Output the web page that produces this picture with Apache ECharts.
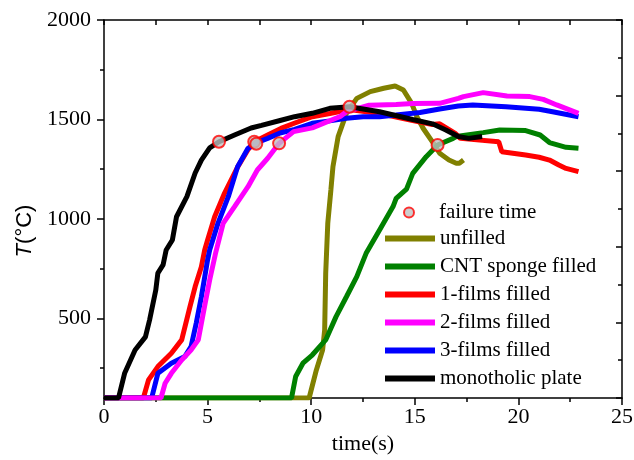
<!DOCTYPE html>
<html>
<head>
<meta charset="utf-8">
<script src="https://cdn.jsdelivr.net/npm/echarts@6/dist/echarts.min.js"></script>
<style>html,body{margin:0;padding:0;background:#fff;}#c{width:634px;height:460px;}</style>
</head>
<body>
<div id="c"></div>
<script>
var seriesNames = ['unfilled','CNT sponge filled','1-films filled','2-films filled','3-films filled','monotholic plate'];
var failureName = 'failure time';
var xTickLabels = [0,5,10,15,20,25];
var yTickLabels = [500,1000,1500,2000];
var yMinorTicks = [250,750,1250,1750];

var unfilled = [[0,100],[9.9,100],[10.25,241],[10.55,341],[10.65,442],[10.7,727],[10.8,978],[10.95,1146],[11.05,1263],[11.3,1414],[11.7,1531],[12.2,1606],[12.85,1640],[13.5,1657],[14.05,1668],[14.45,1648],[14.85,1581],[15.1,1514],[15.4,1456],[15.9,1380],[16.2,1330],[16.65,1296],[17.0,1280],[17.15,1280],[17.35,1296]];
var cntSponge = [[0,100],[9.05,100],[9.25,208],[9.6,275],[10.05,316],[10.7,392],[11.2,509],[11.7,609],[12.2,710],[12.65,827],[13.3,945],[13.95,1062],[14.1,1104],[14.6,1150],[14.9,1229],[15.55,1313],[16.1,1372],[16.85,1405],[17.0,1414],[18.3,1434],[19.1,1447],[20.35,1444],[21.05,1422],[21.5,1384],[22.3,1360],[22.9,1355]];
var films1 = [[0,100],[1.9,100],[2.15,191],[2.6,258],[3.25,325],[3.75,392],[4.15,559],[4.4,660],[4.7,760],[4.86,844],[5.0,894],[5.34,1011],[5.82,1130],[6.46,1263],[6.94,1347],[7.26,1388],[7.9,1422],[8.54,1455],[9.18,1481],[10.05,1514],[10.9,1530],[11.85,1550],[13.3,1530],[14.9,1495],[15.85,1475],[16.2,1478],[16.95,1430],[17.2,1405],[19.05,1388],[19.2,1338],[20.35,1321],[21.0,1310],[21.5,1296],[21.95,1271],[22.3,1254],[22.9,1238]];
var films2 = [[0,100],[2.75,100],[2.95,174],[3.25,224],[3.75,291],[4.2,341],[4.55,392],[4.85,559],[5.1,693],[5.4,835],[5.75,978],[6.3,1062],[6.95,1162],[7.4,1246],[7.9,1305],[8.45,1380],[8.85,1414],[9.15,1439],[10.05,1458],[11.4,1515],[11.7,1539],[12.8,1572],[14.1,1575],[14.9,1580],[16.2,1581],[17.1,1606],[17.35,1615],[18.3,1635],[19.45,1618],[20.55,1615],[21.2,1601],[21.85,1573],[22.9,1531]];
var films3 = [[0,100],[2.3,100],[2.6,224],[3.25,275],[3.9,308],[4.2,358],[4.45,476],[4.7,609],[5.0,794],[5.1,844],[5.25,894],[5.5,978],[6.0,1112],[6.45,1263],[6.95,1355],[7.4,1385],[7.9,1405],[8.5,1432],[9.2,1450],[10.05,1481],[10.9,1493],[11.7,1506],[12.5,1514],[13.3,1514],[14.1,1522],[14.9,1531],[15.25,1535],[16.2,1553],[17.1,1568],[17.8,1573],[19.4,1564],[21.0,1551],[21.65,1539],[22.9,1514]];
var monolithic = [[0,100],[0.7,100],[1.0,226],[1.5,341],[2.0,407],[2.2,492],[2.5,643],[2.6,728],[2.85,769],[3.0,844],[3.3,894],[3.5,1011],[4.0,1112],[4.4,1231],[4.7,1296],[5.1,1357],[5.55,1388],[6.3,1422],[7.1,1457],[7.6,1470],[8.5,1495],[9.2,1514],[10.05,1531],[10.9,1556],[11.85,1564],[13.3,1539],[14.9,1500],[15.85,1478],[16.5,1447],[17.1,1414],[17.6,1405],[18.25,1414]];
var failurePoints = [[5.55,1388],[7.25,1388],[7.35,1378],[8.45,1380],[11.85,1564],[16.1,1372]];

var lineData = [unfilled, cntSponge, films1, films3, films2, monolithic];
var lineNames = ['unfilled','CNT sponge filled','1-films filled','3-films filled','2-films filled','monotholic plate'];
var lineColors = {'unfilled':'#808000','CNT sponge filled':'#008000','1-films filled':'#ff0000','2-films filled':'#ff00ff','3-films filled':'#0000ff','monotholic plate':'#000000'};

var serif = 'Liberation Serif, Times New Roman, serif';
var sans = 'Liberation Sans, Arial, sans-serif';
var axisLineStyle = {color:'#000', width:1.5};
function plain(v){ return String(v); }

var series = lineData.map(function(d, i){
  return {
    name: lineNames[i], type:'line', data:d, xAxisIndex:0, yAxisIndex:0,
    symbol:'none', color: lineColors[lineNames[i]],
    lineStyle:{width:5, color: lineColors[lineNames[i]]},
    emphasis:{disabled:true}, animation:false
  };
});
series.push({
  name: failureName, type:'scatter', data: failurePoints, xAxisIndex:0, yAxisIndex:0,
  symbol:'circle', symbolSize:12, z:5,
  itemStyle:{color:'#c0c0c0', borderColor:'#ff0000', borderWidth:2},
  emphasis:{disabled:true}, animation:false
});

var chart = echarts.init(document.getElementById('c'));
chart.setOption({
  animation:false,
  backgroundColor:'#fff',
  grid:{left:104, right:12, top:20, bottom:62, containLabel:false, outerBoundsMode:'none'},
  legend:[
    {data:[{name:failureName, icon:'circle'}], left:403, top:202, padding:0, itemWidth:10, itemHeight:10,
     textStyle:{fontFamily:serif, fontSize:21, color:'#000', lineHeight:21, padding:[0,0,0,20]}, selectedMode:false},
    {data: seriesNames.map(function(n){return {name:n, icon:'rect'};}), orient:'vertical', left:385, top:228, padding:0,
     itemWidth:50, itemHeight:6, itemGap:7,
     textStyle:{fontFamily:serif, fontSize:21, color:'#000', lineHeight:21}, selectedMode:false}
  ],
  xAxis:[
    {type:'value', min:0, max:25, interval:5, position:'bottom',
     axisLine:{show:true, onZero:false, lineStyle:axisLineStyle},
     axisTick:{show:true, inside:false, length:7, lineStyle:{color:'#000', width:1.5}},
     minorTick:{show:true, splitNumber:2, length:4, lineStyle:{color:'#000', width:1.5}},
     axisLabel:{fontFamily:serif, fontSize:22, color:'#000', margin:8,
       customValues: xTickLabels, formatter: plain},
     splitLine:{show:false},
     name:'time(s)', nameLocation:'middle', nameGap:34,
     nameTextStyle:{fontFamily:serif, fontSize:22, color:'#000'}},
    {type:'value', min:0, max:25, interval:2.5, position:'top',
     axisLine:{show:true, onZero:false, lineStyle:axisLineStyle},
     axisTick:{show:true, inside:true, length:5, lineStyle:{color:'#000', width:1.5}},
     axisLabel:{show:false}, splitLine:{show:false}}
  ],
  yAxis:[
    {type:'value', min:100, max:2000, position:'left',
     axisLine:{show:true, onZero:false, lineStyle:axisLineStyle},
     axisTick:{show:true, inside:false, length:7, customValues: yTickLabels, lineStyle:{color:'#000', width:1.5}},
     axisLabel:{fontFamily:serif, fontSize:22, color:'#000', margin:13, customValues: yTickLabels, formatter: plain},
     splitLine:{show:false},
     name:'{i|T}(°C)', nameLocation:'middle', nameRotate:90, nameGap:62,
     nameTextStyle:{fontFamily:sans, fontSize:22, color:'#000', padding:[0,44,0,0],
       rich:{i:{fontStyle:'italic', fontFamily:sans, fontSize:22, color:'#000'}}}},
    {type:'value', min:100, max:2000, position:'left',
     axisLine:{show:false},
     axisTick:{show:true, inside:false, length:4, customValues: yMinorTicks, lineStyle:{color:'#000', width:1.5}},
     axisLabel:{show:false}, splitLine:{show:false}},
    {type:'value', min:0, max:10, interval:2, position:'right',
     axisLine:{show:true, onZero:false, lineStyle:axisLineStyle},
     axisTick:{show:true, inside:true, length:6, lineStyle:{color:'#000', width:1.5}},
     minorTick:{show:true, splitNumber:2, length:4, lineStyle:{color:'#000', width:1.5}},
     axisLabel:{show:false}, splitLine:{show:false}}
  ],
  series: series
});
</script>
</body>
</html>
